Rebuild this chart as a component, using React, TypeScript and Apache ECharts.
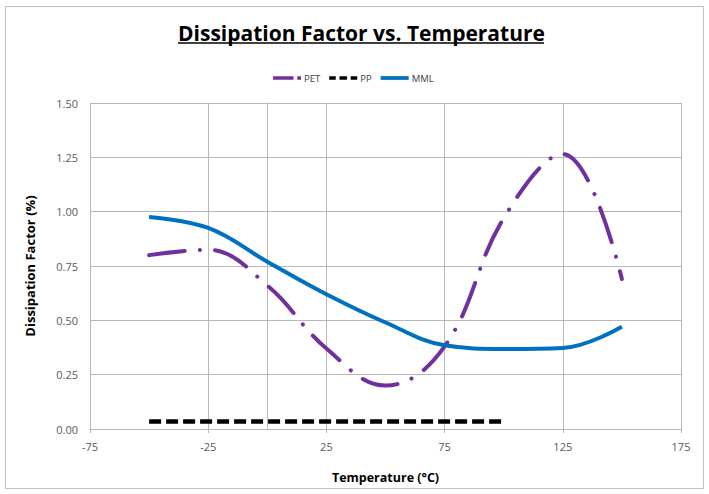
import React, { useEffect, useRef } from "react";
import * as echarts from "echarts";

const temps = [-50, -25, 0, 25, 50, 75, 100, 125, 150];
const petValues = [0.8, 0.825, 0.66, 0.37, 0.2, 0.38, 0.97, 1.265, 0.69];
const ppTemps = [-50, -25, 0, 25, 50, 75, 100];
const ppValues = [0.035, 0.035, 0.035, 0.035, 0.035, 0.035, 0.035];
const mmlValues = [0.975, 0.925, 0.77, 0.62, 0.49, 0.385, 0.368, 0.373, 0.47];
const xTicks = [-75, -25, 25, 75, 125, 175];
const seriesNames = ["PET", "PP", "MML"];

export default function App() {
  const ref = useRef<HTMLDivElement>(null);
  useEffect(() => {
    const chart = echarts.init(ref.current!, null, { renderer: "svg" });
    const font = "'Open Sans', sans-serif";
    const grid = "#B8B8B8";
    const petIcon = "path://M0,0 H22 V4 H0 Z M26,0 H30 V4 H26 Z";
    const ppIcon = "path://M0,0 H7 V4 H0 Z M11,0 H19 V4 H11 Z M23,0 H30 V4 H23 Z";
    const mmlIcon = "path://M0,0 H30 V4 H0 Z";
    chart.setOption({
      animation: false,
      backgroundColor: "#fff",
      title: {
        text: "Dissipation Factor vs. Temperature",
        left: 173,
        top: 17,
        textStyle: { fontFamily: font, fontSize: 21, fontWeight: "bold", color: "#000" },
      },
      graphic: [
        { type: "rect", shape: { x: 5.5, y: 6.5, width: 698, height: 482 }, style: { fill: "none", stroke: "#BFBFBF", lineWidth: 1 }, silent: true },
        { type: "line", shape: { x1: 178, y1: 43, x2: 544, y2: 43 }, style: { stroke: "#000", lineWidth: 1.5 }, silent: true },
      ],
      legend: {
        top: 68,
        left: 268,
        itemWidth: 28,
        itemHeight: 4,
        itemGap: 9,
        textStyle: { fontFamily: font, fontSize: 9.5, color: "#404040", padding: [0, 0, 0, -2] },
        data: [
          { name: seriesNames[0], icon: petIcon },
          { name: seriesNames[1], icon: ppIcon },
          { name: seriesNames[2], icon: mmlIcon },
        ],
      },
      grid: { left: 90, right: 28, top: 103, bottom: 65 },
      xAxis: {
        type: "value",
        min: -75,
        max: 175,
        interval: 50,
        name: "Temperature (°C)",
        nameLocation: "middle",
        nameGap: 42,
        nameTextStyle: { fontFamily: font, fontSize: 12.5, fontWeight: "bold", color: "#000" },
        axisLine: { lineStyle: { color: grid } },
        axisTick: { show: true, length: 4, lineStyle: { color: grid } },
        axisLabel: { fontFamily: font, fontSize: 11, color: "#595959", margin: 12, customValues: xTicks },
        splitLine: { show: true, lineStyle: { color: grid, width: 1 } },
      },
      yAxis: {
        type: "value",
        min: 0,
        max: 1.5,
        interval: 0.25,
        name: "Dissipation Factor (%)",
        nameLocation: "middle",
        nameGap: 54,
        nameTextStyle: { fontFamily: font, fontSize: 13, fontWeight: "bold", color: "#000" },
        axisLine: { show: true, lineStyle: { color: grid } },
        axisTick: { show: false },
        axisLabel: { fontFamily: font, fontSize: 11, color: "#595959", margin: 12, formatter: (v: number) => v.toFixed(2) },
        splitLine: { show: true, lineStyle: { color: grid, width: 1 } },
      },
      series: [
        {
          name: seriesNames[0],
          type: "line",
          data: temps.map((t, i) => [t, petValues[i]]),
          smooth: 0.4,
          showSymbol: false,
          symbol: "none",
          color: "#7030A0",
          lineStyle: { color: "#7030A0", width: 4, type: [36, 15, 0.1, 15], cap: "round" },
          z: 3,
          markLine: {
            silent: true,
            symbol: "none",
            label: { show: false },
            lineStyle: { color: grid, type: "solid", width: 1 },
            data: [{ xAxis: 0 }],
            z: 1,
          },
        },
        {
          name: seriesNames[1],
          type: "line",
          data: ppTemps.map((t, i) => [t, ppValues[i]]),
          showSymbol: false,
          symbol: "none",
          color: "#000",
          lineStyle: { color: "#000", width: 4.5, type: [12, 5] },
          z: 3,
        },
        {
          name: seriesNames[2],
          type: "line",
          data: temps.map((t, i) => [t, mmlValues[i]]),
          smooth: 0.4,
          showSymbol: false,
          symbol: "none",
          color: "#0070C0",
          lineStyle: { color: "#0070C0", width: 4 },
          z: 3,
        },
      ],
    });
    return () => chart.dispose();
  }, []);
  return <div ref={ref} style={{ position: "fixed", left: 0, top: 0, width: 709, height: 494 }} />;
}
